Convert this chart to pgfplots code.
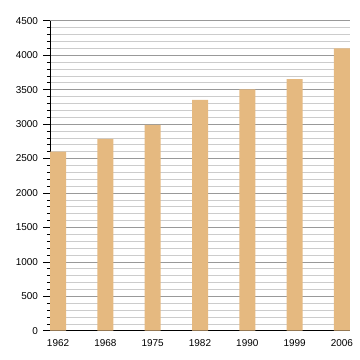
\documentclass[border=0pt]{standalone}
\usepackage{pgfplots}
\pgfplotsset{compat=1.18}
\usepackage{fontspec}
\setmainfont{Liberation Sans}
\definecolor{barc}{RGB}{229,185,128}
\begin{document}
\begin{tikzpicture}[x=1bp,y=1bp]
\path[use as bounding box] (-50bp,-29.3bp) rectangle (310bp,330.7bp);
\begin{axis}[
  at={(0,0)}, anchor=south west,
  scale only axis, width=300bp, height=310bp,
  xmin=-0.17, xmax=6.17, ymin=0, ymax=4500,
  xtick=data, xticklabels={1962,1968,1975,1982,1990,1999,2006},
  ytick={0,500,...,4500},
  minor ytick={100,200,...,4400},
  axis x line*=bottom, axis y line*=left,
  x axis line style={-, line width=0.8pt},
  y axis line style={-, line width=0.8pt},
  xtick style={draw=none},
  ytick style={black, line width=0.5pt},
  tick align=outside,
  major tick length=6.5bp, minor tick length=3bp,
  ymajorgrids, yminorgrids,
  major grid style={gray!80, line width=0.5pt},
  minor grid style={gray!40, line width=0.5pt},
  tick label style={font=\fontsize{10}{12}\selectfont},
  /pgf/number format/assume math mode=true,
  /pgf/number format/1000 sep={},
  yticklabel style={xshift=-2bp},
  xticklabel style={yshift=1bp},
  ybar, bar width=16bp,
]
\addplot[fill=barc, draw=none] coordinates {
(0,2600) (1,2785) (2,2988) (3,3350) (4,3502) (5,3653) (6,4100)};
\end{axis}
\end{tikzpicture}
\end{document}
